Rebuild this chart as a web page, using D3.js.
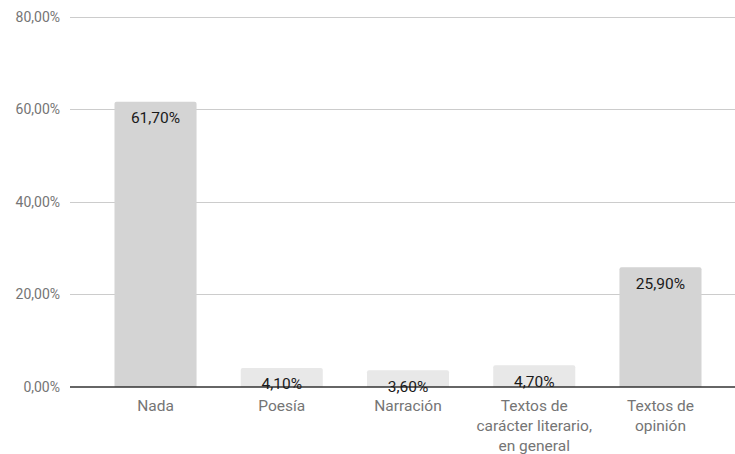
<!DOCTYPE html>
<html><head><meta charset="utf-8">
<script src="https://cdn.jsdelivr.net/npm/d3@7"></script>
<style>body{margin:0;background:#fff}svg{display:block}text{font-family:Roboto,"Noto Sans",sans-serif}</style>
</head><body><svg id="c" width="735" height="454"></svg>
<script>
const categories = ["Nada", "Poesía", "Narración", "Textos de\ncarácter literario,\nen general", "Textos de\nopinión"];
const values = [61.7, 4.1, 3.6, 4.7, 25.9];
const yTicks = [0, 20, 40, 60, 80];

const svg = d3.select("#c");
const fmt = v => v.toFixed(2).replace(".", ",") + "%";
const y = d3.scaleLinear().domain([0, 80]).range([387, 17]);
const x = d3.scaleBand().domain(categories).range([92.4, 723.6]).paddingInner(0.35).paddingOuter(0.175);

// gridlines
svg.append("g").selectAll("line").data(yTicks.filter(t => t > 0)).join("line")
  .attr("x1", 70).attr("x2", 735).attr("y1", d => y(d)).attr("y2", d => y(d))
  .attr("stroke", "#cccccc").attr("stroke-width", 1).attr("shape-rendering", "crispEdges");

// y tick labels
svg.append("g").selectAll("text").data(yTicks).join("text")
  .attr("x", 60).attr("y", d => y(d)).attr("dy", "0.35em").attr("text-anchor", "end")
  .attr("font-family", "'Liberation Sans', Arial, sans-serif")
  .attr("font-size", 14).attr("fill", "#757575").text(fmt);

// bars with rounded top corners
const r = 2;
svg.append("g").selectAll("path").data(values).join("path")
  .attr("d", (d, i) => {
    const x0 = x(categories[i]), w = x.bandwidth(), y0 = y(d), yb = y(0);
    return `M${x0},${yb}V${y0 + r}Q${x0},${y0} ${x0 + r},${y0}H${x0 + w - r}Q${x0 + w},${y0} ${x0 + w},${y0 + r}V${yb}Z`;
  })
  .attr("fill", d => (y(0) - y(d)) > 30 ? "#d4d4d4" : "#e8e8e8");

// baseline
svg.append("line").attr("x1", 70).attr("x2", 735).attr("y1", y(0)).attr("y2", y(0))
  .attr("stroke", "#333333").attr("stroke-width", 1.3);

// value labels
svg.append("g").selectAll("text").data(values).join("text")
  .attr("x", (d, i) => x(categories[i]) + x.bandwidth() / 2)
  .attr("y", d => y(d) + 16).attr("dy", "0.35em").attr("text-anchor", "middle")
  .attr("font-family", "'Liberation Sans', Arial, sans-serif")
  .attr("font-size", 15.5).attr("fill", "#1a1a1a").text(d => d.toFixed(2).replace(".", ",") + "%");

// category labels
const cg = svg.append("g").selectAll("text").data(categories).join("text")
  .attr("x", d => x(d) + x.bandwidth() / 2).attr("y", 406)
  .attr("text-anchor", "middle").attr("font-size", 15.5).attr("fill", "#757575");
cg.each(function(d) {
  const t = d3.select(this);
  d.split("\n").forEach((line, k) => {
    t.append("tspan").attr("x", x(d) + x.bandwidth() / 2).attr("y", 406 + k * 20).attr("dy", "0.35em").text(line);
  });
});
</script></body></html>
